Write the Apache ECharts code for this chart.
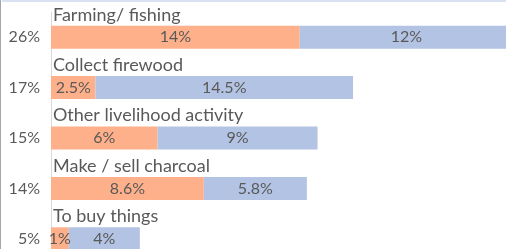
<!DOCTYPE html>
<html>
	<head>
		<meta charset="utf-8" />
		<title>Livelihood chart</title>
		<script type="text/javascript" src="https://cdn.jsdelivr.net/npm/echarts@6/dist/echarts.min.js"></script>
	</head>
	<body style="margin:0;">
		<div id="main" style="width:506px;height:249px;"></div>
	</body>
	<script>
	var categories = ['Farming/ fishing', 'Collect firewood', 'Other livelihood activity', 'Make / sell charcoal', 'To buy things'];
	var orangeValues = [14, 2.5, 6, 8.6, 1];
	var blueValues = [12, 14.5, 9, 5.8, 4];
	var totalLabels = ['26%', '17%', '15%', '14%', '5%'];

	var totals = orangeValues.map(function (v, i) { return v + blueValues[i]; });
	var textColor = '#595959';
	var fontName = 'Lato';

	var myChart = echarts.init(document.getElementById('main'), null, { renderer: 'canvas' });

	var option = {
		animation: false,
		grid: {
			left: 51,
			width: 462,
			top: 12,
			height: 252,
			outerBoundsMode: 'none'
		},
		xAxis: {
			type: 'value',
			min: 0,
			max: 26,
			show: false
		},
		yAxis: {
			type: 'category',
			inverse: true,
			data: totalLabels,
			axisTick: { show: false },
			axisLine: { lineStyle: { color: '#d9d9d9' } },
			axisLabel: {
				margin: 11,
				color: textColor,
				fontFamily: fontName,
				fontSize: 16
			}
		},
		graphic: [
			{ type: 'rect', shape: { x: 2, y: 0, width: 504, height: 2 }, style: { fill: '#d9e1f2' } },
			{ type: 'rect', shape: { x: 0, y: 0, width: 1, height: 249 }, style: { fill: '#a6a6a6' } }
		],
		series: [
			{
				name: 'orange',
				type: 'bar',
				stack: 'total',
				barWidth: 23,
				data: orangeValues,
				itemStyle: { color: '#fdb08a' },
				label: {
					show: true,
					position: 'inside',
					color: textColor,
					fontFamily: fontName,
					fontSize: 16,
					formatter: function (p) { return p.value + '%'; }
				}
			},
			{
				name: 'blue',
				type: 'bar',
				stack: 'total',
				barWidth: 23,
				data: blueValues,
				itemStyle: { color: '#b3c3e3' },
				label: {
					show: true,
					position: 'inside',
					color: textColor,
					fontFamily: fontName,
					fontSize: 16,
					formatter: function (p) { return p.value + '%'; }
				}
			},
			{
				name: 'names',
				type: 'bar',
				barWidth: 23,
				barGap: '-100%',
				silent: true,
				data: totals,
				itemStyle: { color: 'rgba(0,0,0,0)' },
				label: {
					show: true,
					position: [2, -2],
					align: 'left',
					verticalAlign: 'bottom',
					color: textColor,
					fontFamily: fontName,
					fontSize: 18,
					formatter: function (p) { return categories[p.dataIndex]; }
				}
			}
		]
	};
	myChart.setOption(option);
	window.addEventListener('resize', myChart.resize);
	</script>
</html>
